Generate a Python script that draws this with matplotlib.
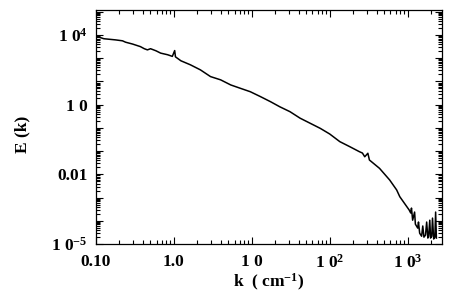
import numpy as np
import matplotlib
matplotlib.use("Agg")
import matplotlib.pyplot as plt
from matplotlib.ticker import FixedLocator, FixedFormatter, LogLocator, NullFormatter

plt.rcParams['font.family'] = ['Liberation Serif', 'DejaVu Serif']
plt.rcParams['font.weight'] = 'bold'
plt.rcParams['mathtext.fontset'] = 'custom'
plt.rcParams['mathtext.rm'] = 'Liberation Serif:bold'
plt.rcParams['mathtext.it'] = 'Liberation Serif:bold'
plt.rcParams['mathtext.bf'] = 'Liberation Serif:bold'

# Spectrum (log10 k, log10 E)
log_k = [-0.99, -0.90, -0.75, -0.66, -0.62, -0.53, -0.43, -0.38, -0.34, -0.30,
         -0.23, -0.17, -0.08, -0.02, 0.01, 0.02, 0.09, 0.21, 0.34, 0.47,
         0.60, 0.73, 0.85, 0.98, 1.11, 1.24, 1.36, 1.49, 1.62, 1.75,
         1.88, 2.00, 2.13, 2.26, 2.38, 2.42, 2.45, 2.49, 2.51, 2.64,
         2.77, 2.86, 2.90, 3.02]
log_E = [3.94, 3.84, 3.79, 3.75, 3.69, 3.61, 3.50, 3.41, 3.36, 3.41,
         3.32, 3.22, 3.15, 3.08, 3.33, 3.06, 2.89, 2.72, 2.50, 2.21,
         2.07, 1.85, 1.71, 1.56, 1.35, 1.13, 0.91, 0.70, 0.42, 0.20,
         -0.02, -0.26, -0.59, -0.81, -1.02, -1.08, -1.24, -1.09, -1.38, -1.74,
         -2.24, -2.67, -2.96, -3.53]

# Noisy tail near the dissipation range
tail_log_k = [3.04, 3.05, 3.065, 3.09, 3.10, 3.13, 3.14, 3.155, 3.18, 3.195,
              3.21, 3.23, 3.245, 3.26, 3.27, 3.285, 3.295, 3.31, 3.32, 3.335,
              3.35, 3.36, 3.37]
tail_log_E = [-3.66, -3.45, -3.97, -3.62, -4.14, -4.31, -4.05, -4.53, -4.66, -4.22,
              -4.70, -4.61, -4.05, -4.74, -4.66, -3.97, -4.74, -4.66, -3.88, -4.78,
              -4.70, -3.62, -4.74]

y_major = [1e-5, 1e-4, 1e-3, 1e-2, 1e-1, 1e0, 1e1, 1e2, 1e3, 1e4, 1e5]
y_labels = ['1 0$^{-5}$', '', '', '0.01', '', '', '1 0', '', '', '1 0$^{4}$', '']
x_major = [0.1, 1, 10, 100, 1000]
x_labels = ['0.10', '1.0', '1 0', '1 0$^{2}$', '1 0$^{3}$']

k = 10 ** np.array(log_k + tail_log_k)
E = 10 ** np.array(log_E + tail_log_E)

fig = plt.figure(figsize=(4.55, 2.92), dpi=100)
ax = fig.add_axes([0.211, 0.164, 0.76, 0.802])
ax.plot(k, E, color='black', lw=1.1)

ax.set_xscale('log')
ax.set_yscale('log')
ax.set_xlim(0.1, 2750)
ax.set_ylim(1e-5, 1.2e5)

ax.xaxis.set_major_locator(FixedLocator(x_major))
ax.xaxis.set_major_formatter(FixedFormatter(x_labels))
ax.yaxis.set_major_locator(FixedLocator(y_major))
ax.yaxis.set_major_formatter(FixedFormatter(y_labels))
for axis in (ax.xaxis, ax.yaxis):
    axis.set_minor_locator(LogLocator(base=10, subs=np.arange(2, 10), numticks=20))
    axis.set_minor_formatter(NullFormatter())

ax.tick_params(which='both', direction='in', top=True, right=True, labelsize=12.5, width=0.8)
ax.tick_params(which='major', length=5)
ax.tick_params(which='minor', length=3)
ax.tick_params(axis='x', pad=7)
ax.tick_params(axis='y', pad=6)
for sp in ax.spines.values():
    sp.set_linewidth(0.9)

ax.set_xlabel('k  ( cm$^{-1}$)', fontsize=12.5, fontweight='bold', labelpad=0)
ax.set_ylabel('E (k)', fontsize=12.5, fontweight='bold')
ax.yaxis.set_label_coords(-0.19, 0.47)

fig.savefig('out.png', dpi=100)
